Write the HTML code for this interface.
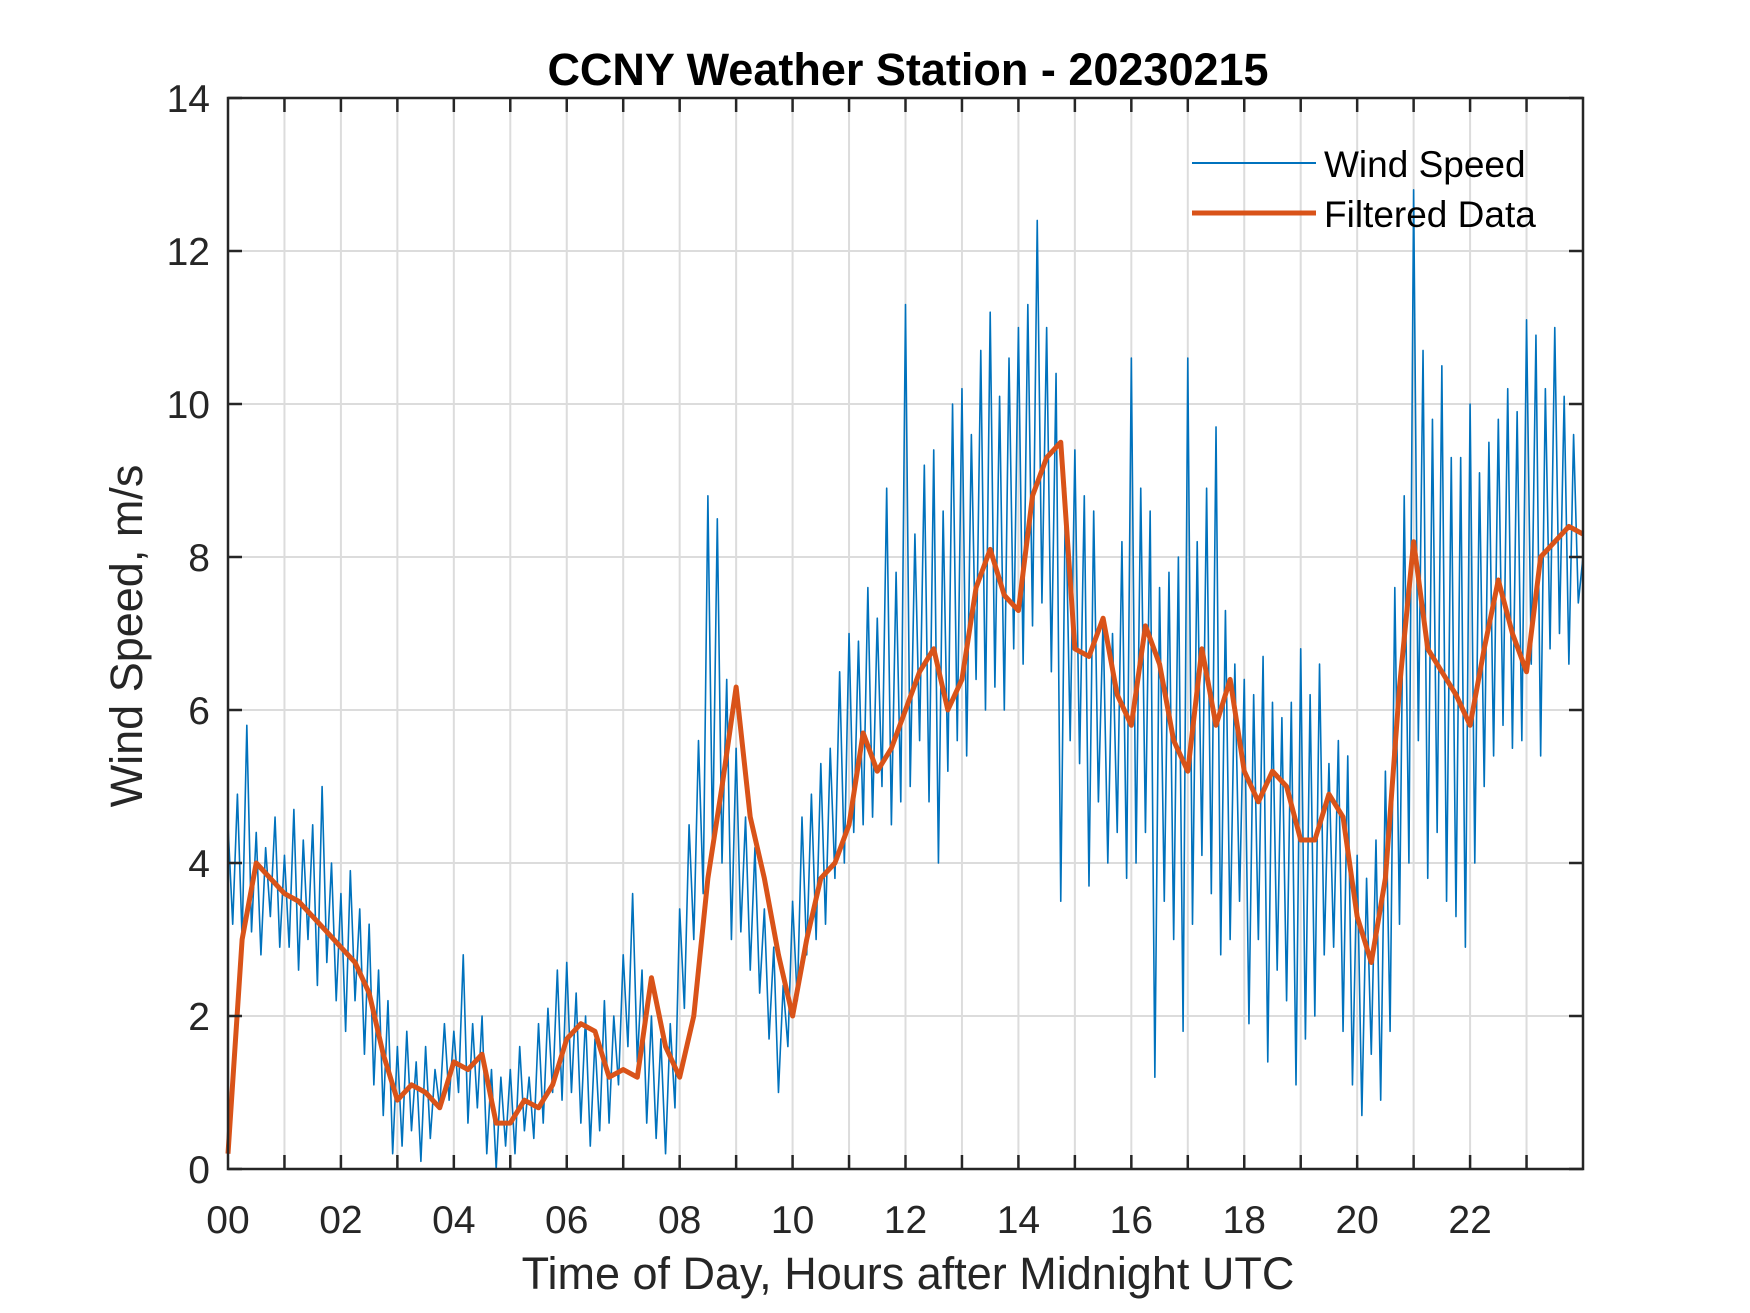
<!DOCTYPE html>
<html><head><meta charset="utf-8"><style>
html,body{margin:0;padding:0;background:#fff;}
svg{display:block;font-family:"Liberation Sans",Arial,sans-serif;}
</style></head><body>
<svg id="chart" width="1750" height="1313" viewBox="0 0 1750 1313" xmlns="http://www.w3.org/2000/svg">
<rect width="1750" height="1313" fill="#fff"/>
<g id="grid"></g>
<g id="series"></g>
<g id="axes"></g>
<text x="908" y="85" text-anchor="middle" font-size="45" font-weight="bold" fill="#000">CCNY Weather Station - 20230215</text>
<text x="908" y="1289" text-anchor="middle" font-size="45" fill="#262626">Time of Day, Hours after Midnight UTC</text>
<text transform="translate(142,636) rotate(-90)" text-anchor="middle" font-size="45" fill="#262626">Wind Speed, m/s</text>
<g>
<line x1="1192" y1="163" x2="1316" y2="163" stroke="#0072BD" stroke-width="2"/>
<text x="1324" y="177" font-size="37" fill="#000">Wind Speed</text>
<line x1="1192" y1="213" x2="1316" y2="213" stroke="#D95319" stroke-width="5"/>
<text x="1324" y="227" font-size="37" fill="#000">Filtered Data</text>
</g>
</svg>
<script>
const windSpeed = [
4.5,3.2,4.9,3.0,5.8,3.1,4.4,2.8,4.2,3.3,4.6,2.9,
4.1,2.9,4.7,2.6,4.3,3.0,4.5,2.4,5.0,2.7,4.0,2.2,
3.6,1.8,3.9,2.2,3.4,1.5,3.2,1.1,2.6,0.7,2.2,0.2,
1.6,0.3,1.8,0.5,1.4,0.1,1.6,0.4,1.3,0.8,1.9,0.9,
1.8,1.0,2.8,0.6,1.9,0.8,2.0,0.2,1.3,0.0,1.2,0.3,
1.3,0.2,1.6,0.5,1.2,0.4,1.9,0.6,2.1,1.0,2.6,0.9,
2.7,1.0,2.3,0.6,2.0,0.3,1.7,0.5,2.2,0.6,2.0,1.1,
2.8,1.6,3.6,1.4,2.6,0.6,2.0,0.4,1.7,0.2,1.9,0.8,
3.4,2.1,4.5,3.0,5.6,3.6,8.8,4.2,8.5,4.0,6.4,3.0,
5.5,3.1,4.6,2.6,4.2,2.3,3.4,1.7,2.9,1.0,2.4,1.6,
3.5,2.2,4.6,2.8,4.9,3.0,5.3,3.2,5.5,3.8,6.5,4.0,
7.0,4.4,6.9,4.5,7.6,4.6,7.2,5.0,8.9,4.5,7.8,4.8,
11.3,5.0,8.3,5.6,9.2,4.8,9.4,4.0,8.6,5.2,10.0,5.6,
10.2,5.4,9.6,6.4,10.7,6.0,11.2,6.3,10.1,6.0,10.6,6.8,
11.0,6.6,11.3,7.1,12.4,7.4,11.0,6.5,10.4,3.5,8.9,5.6,
9.4,5.3,8.8,3.7,8.6,4.8,7.2,4.0,7.0,4.4,8.2,3.8,
10.6,4.0,8.9,4.4,8.6,1.2,7.6,3.5,7.8,3.0,8.0,1.8,
10.6,3.2,8.2,4.1,8.9,3.6,9.7,2.8,7.3,3.0,6.6,3.5,
6.4,1.9,6.2,3.0,6.7,1.4,6.1,2.6,5.9,2.2,6.1,1.1,
6.8,1.7,6.2,2.0,6.6,2.8,5.3,2.9,5.6,1.8,5.4,1.1,
4.1,0.7,3.8,1.5,4.3,0.9,5.2,1.8,7.6,3.2,8.8,4.0,
12.8,5.6,10.7,3.8,9.8,4.4,10.5,3.5,9.3,3.3,9.3,2.9,
10.0,4.0,9.1,5.0,9.5,5.4,9.8,5.8,10.2,5.5,9.9,5.6,
11.1,6.6,10.9,5.4,10.2,6.8,11.0,7.0,10.1,6.6,9.6,7.4,8.0];
const windStepHours = 1/12;
const filtered = [0.2,3.0,4.0,3.8,3.6,3.5,3.3,3.1,2.9,2.7,2.3,1.5,0.9,1.1,1.0,0.8,1.4,1.3,1.5,0.6,0.6,0.9,0.8,1.1,1.7,1.9,1.8,1.2,1.3,1.2,2.5,1.6,1.2,2.0,3.8,5.0,6.3,4.6,3.8,2.8,2.0,3.0,3.8,4.0,4.5,5.7,5.2,5.5,6.0,6.5,6.8,6.0,6.4,7.6,8.1,7.5,7.3,8.8,9.3,9.5,6.8,6.7,7.2,6.2,5.8,7.1,6.6,5.6,5.2,6.8,5.8,6.4,5.2,4.8,5.2,5.0,4.3,4.3,4.9,4.6,3.3,2.7,3.8,6.3,8.2,6.8,6.5,6.2,5.8,6.8,7.7,7.0,6.5,8.0,8.2,8.4,8.3];
const filteredStepHours = 0.25;
const xTickLabels = ["00","02","04","06","08","10","12","14","16","18","20","22"];
const yTickLabels = ["0","2","4","6","8","10","12","14"];

const NS="http://www.w3.org/2000/svg";
const L=228,R=1583,T=98,B=1169,XMAX=24,YMAX=14;
const xs=h=>L+(R-L)*h/XMAX, ys=v=>B-(B-T)*v/YMAX;
function mk(tag,attrs,parent){const e=document.createElementNS(NS,tag);for(const k in attrs)e.setAttribute(k,attrs[k]);parent.appendChild(e);return e;}
const grid=document.getElementById('grid'),series=document.getElementById('series'),axes=document.getElementById('axes');
for(let h=1;h<XMAX;h++){const g=mk('line',{x1:xs(h),x2:xs(h),y1:T,y2:B,stroke:'#dcdcdc','stroke-width':2},grid);

}
for(let i=1;i<yTickLabels.length-1;i++){const v=+yTickLabels[i];const g=mk('line',{x1:L,x2:R,y1:ys(v),y2:ys(v),stroke:'#dcdcdc','stroke-width':2},grid);

}
const wp=mk('polyline',{points:windSpeed.map((v,i)=>xs(Math.min(i*windStepHours,XMAX))+','+ys(v)).join(' '),fill:'none',stroke:'#0072BD','stroke-width':1.6,'stroke-linejoin':'round'},series);


const fp=mk('polyline',{points:filtered.map((v,i)=>xs(i*filteredStepHours)+','+ys(v)).join(' '),fill:'none',stroke:'#D95319','stroke-width':5,'stroke-linejoin':'round'},series);


const box=mk('rect',{x:L,y:T,width:R-L,height:B-T,fill:'none',stroke:'#262626','stroke-width':2.5},axes);


for(let h=1;h<XMAX;h++){for(const[y1,y2]of[[B,B-14],[T,T+14]]){const t=mk('line',{x1:xs(h),x2:xs(h),y1:y1,y2:y2,stroke:'#262626','stroke-width':2.5},axes);

}}
xTickLabels.forEach((lab,i)=>{const t=mk('text',{x:xs(i*2),y:1233,'text-anchor':'middle','font-size':39,fill:'#262626'},axes);t.textContent=lab;

});
yTickLabels.forEach(lab=>{const v=+lab;
for(const[x1,x2]of[[L,L+14],[R,R-14]]){const t=mk('line',{x1:x1,x2:x2,y1:ys(v),y2:ys(v),stroke:'#262626','stroke-width':2.5},axes);

}
const t=mk('text',{x:210,y:ys(v)+14,'text-anchor':'end','font-size':39,fill:'#262626'},axes);t.textContent=lab;

});
</script>
</body></html>
